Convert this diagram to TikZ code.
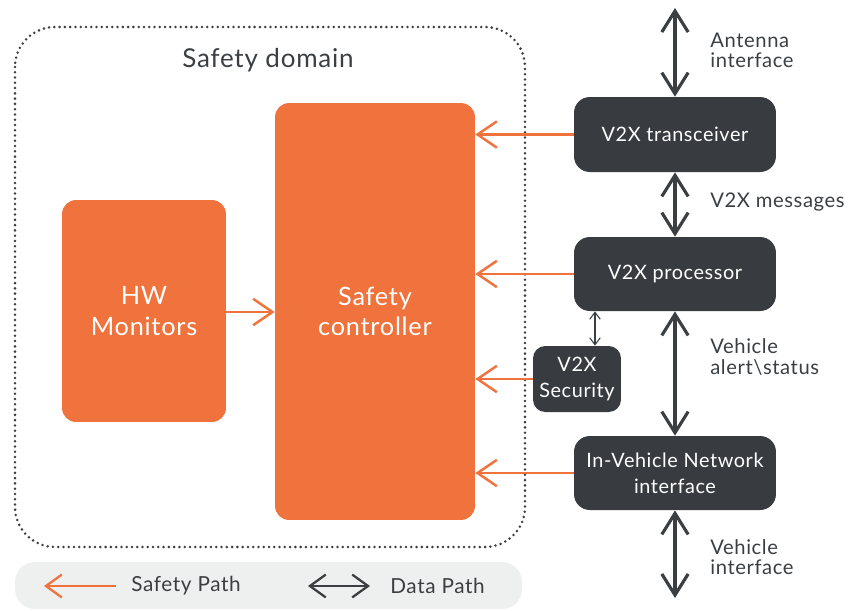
\documentclass[tikz,border=0pt]{standalone}
\usepackage{fontspec}
\setmainfont{Lato}[LetterSpace=3]
\usetikzlibrary{arrows.meta}
\definecolor{safeorange}{HTML}{F0723C}
\definecolor{boxgray}{HTML}{383B3F}
\definecolor{textgray}{HTML}{3C3F42}
\definecolor{legendbg}{HTML}{EEF0EF}
\tikzset{
  orangebox/.style={fill=safeorange, rounded corners=8pt, text=white, align=center,
    font=\fontsize{14.4}{17.5}\selectfont, inner sep=0pt},
  darkbox/.style={fill=boxgray, rounded corners=9pt, text=white, align=center,
    font=\fontsize{11.3}{15}\selectfont, inner sep=0pt},
  note/.style={text=textgray, align=left, anchor=west, inner sep=0pt,
    font=\fontsize{11.5}{11.5}\selectfont},
  safety/.style={draw=safeorange, line width=1.4pt, -{Straight Barb[length=11pt,width=15pt]}},
  data/.style={draw=textgray, line width=1.8pt,
    {Straight Barb[length=12pt,width=15pt]}-{Straight Barb[length=12pt,width=15pt]}},
}
\begin{document}
\begin{tikzpicture}[x=0.02cm,y=-0.02cm]
\useasboundingbox (0,0) rectangle (850,610);

% safety domain and legend
\draw[textgray, line width=1.6pt, dash pattern=on 0pt off 3pt, line cap=round, rounded corners=0.8cm]
  (15,27) rectangle (525,547);
\node[text=textgray, font=\fontsize{14.8}{16}\selectfont] (domain) at (268,60) {Safety domain};
\fill[legendbg, rounded corners=0.4cm] (15,562) rectangle (522,609);

% blocks
\node[orangebox, minimum width=3.28cm, minimum height=4.44cm] (hw) at (144,311) {HW\\Monitors};
\node[orangebox, minimum width=4cm, minimum height=8.34cm] (ctrl) at (375,311.5) {Safety\\controller};
\node[darkbox, minimum width=4.04cm, minimum height=1.5cm] (trx) at (675,134.5) {V2X transceiver};
\node[darkbox, minimum width=4.04cm, minimum height=1.48cm] (proc) at (675,274) {V2X processor};
\node[darkbox, minimum width=1.76cm, minimum height=1.32cm, rounded corners=7pt] (sec) at (577,379) {V2X\\Security};
\node[darkbox, minimum width=4.04cm, minimum height=1.48cm] (ivn) at (675,473) {In-Vehicle Network\\interface};

% data paths
\coordinate (antenna) at (675,8);
\coordinate (vehicle) at (675,598);
\draw[data] (antenna) -- (trx.north);
\draw[data] (trx.south) -- (proc.north);
\draw[data] (proc.south) -- (ivn.north);
\draw[data] (ivn.south) -- (vehicle);
\draw[textgray, line width=0.6pt, {Straight Barb[length=4pt,width=6pt]}-{Straight Barb[length=4pt,width=6pt]}]
  ([xshift=0.36cm]sec.north |- proc.south) -- ([xshift=0.36cm]sec.north);

\node[note] (antlbl) at (710,50) {Antenna\\interface};
\node[note] (msglbl) at (710,202) {V2X messages};
\node[note] (alertlbl) at (710,357) {Vehicle\\alert\textbackslash status};
\node[note] (vehlbl) at (710,557) {Vehicle\\interface};

% safety paths
\draw[safety] (hw.east |- 0,312) -- (ctrl.west |- 0,312);
\draw[safety] (trx.west) -- (ctrl.east |- trx.west);
\draw[safety] (proc.west) -- (ctrl.east |- proc.west);
\draw[safety] (sec.west) -- (ctrl.east |- sec.west);
\draw[safety] (ivn.west) -- (ctrl.east |- ivn.west);

% legend
\coordinate (safeA) at (116,586);
\coordinate (safeB) at (44,586);
\coordinate (dataA) at (308,586);
\coordinate (dataB) at (370,586);
\draw[draw=safeorange, line width=1.3pt, -{Straight Barb[length=9pt,width=13pt]}] (safeA) -- (safeB);
\draw[draw=textgray, line width=1.3pt,
  {Straight Barb[length=9pt,width=13pt]}-{Straight Barb[length=9pt,width=13pt]}] (dataA) -- (dataB);
\node[note, font=\fontsize{11.8}{13}\selectfont] (safelbl) at (131,586) {Safety Path};
\node[note, font=\fontsize{11.8}{13}\selectfont] (datalbl) at (390,586) {Data Path};
\end{tikzpicture}
\end{document}
